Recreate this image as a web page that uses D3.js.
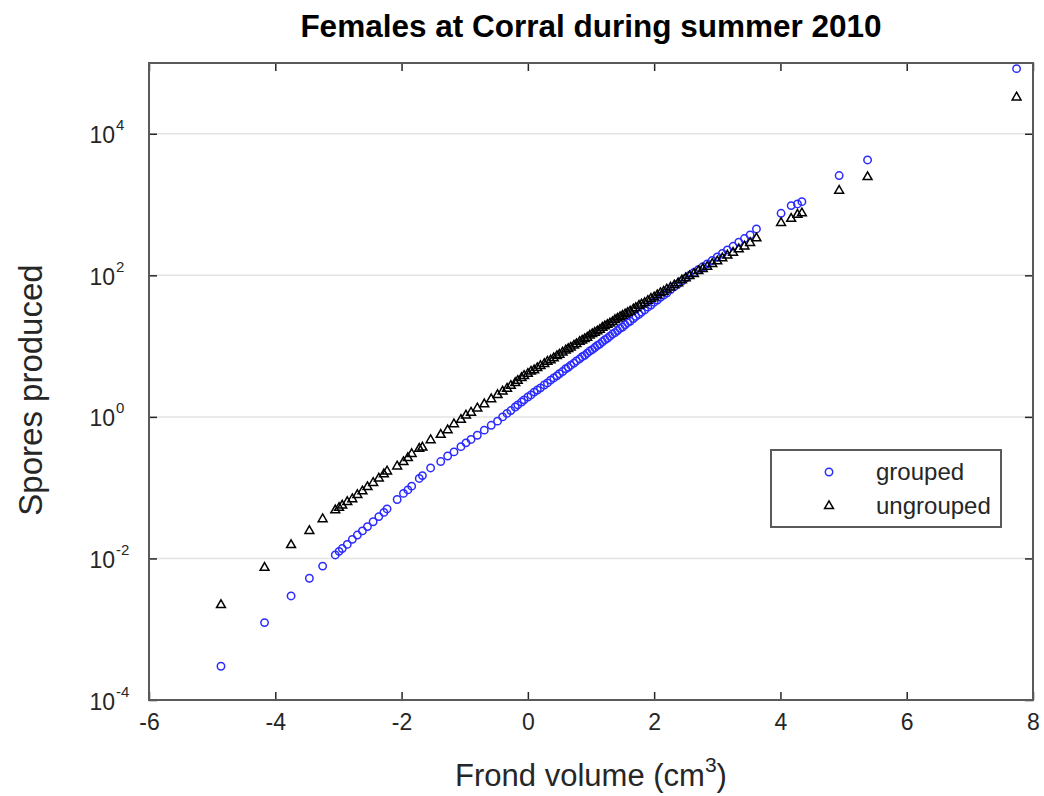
<!DOCTYPE html>
<html>
<head>
<meta charset="utf-8">
<script src="https://cdn.jsdelivr.net/npm/d3@7"></script>
<style>
  html, body { margin: 0; padding: 0; background: #fff; overflow: hidden; }
  svg { display: block; }
  text { font-family: "Liberation Sans", Arial, Helvetica, sans-serif; }
</style>
</head>
<body>
<div id="chart"></div>
<script>
// frond volume shared by both series
const volume = [
  -4.86, -4.17, -3.75, -3.46, -3.25, -3.05, -2.99, -2.94, -2.86, -2.78,
  -2.70, -2.62, -2.54, -2.45, -2.36, -2.28, -2.23, -2.07, -1.97, -1.90,
  -1.84, -1.72, -1.67, -1.54, -1.38, -1.27, -1.17, -1.06, -0.98, -0.90,
  -0.80, -0.69, -0.58, -0.48, -0.40, -0.33, -0.27, -0.20, -0.16, -0.10,
  -0.06, 0.00, 0.05, 0.10, 0.15, 0.20, 0.26, 0.31, 0.36, 0.41,
  0.46, 0.50, 0.55, 0.60, 0.64, 0.68, 0.73, 0.77, 0.82, 0.86,
  0.90, 0.94, 0.98, 1.02, 1.06, 1.10, 1.14, 1.18, 1.22, 1.26,
  1.30, 1.34, 1.38, 1.42, 1.46, 1.50, 1.54, 1.58, 1.62, 1.67,
  1.71, 1.76, 1.80, 1.85, 1.90, 1.95, 2.00, 2.05, 2.10, 2.15,
  2.20, 2.26, 2.32, 2.38, 2.44, 2.50, 2.56, 2.63, 2.70, 2.77,
  2.84, 2.92, 3.00, 3.08, 3.16, 3.25, 3.34, 3.43, 3.52, 3.62,
  4.01, 4.17, 4.27, 4.34, 4.93, 5.38, 7.74
];

const grouped = [
  3.0e-4, 1.24e-3, 2.95e-3, 5.25e-3, 7.8e-3, 1.12e-2, 1.26e-2, 1.38e-2, 1.58e-2, 1.86e-2,
  2.14e-2, 2.45e-2, 2.82e-2, 3.3e-2, 3.9e-2, 4.47e-2, 5.0e-2, 6.8e-2, 8.3e-2, 9.3e-2,
  0.105, 0.135, 0.148, 0.19, 0.234, 0.28, 0.32, 0.38, 0.43, 0.48,
  0.55, 0.65, 0.76, 0.87, 1.0, 1.12, 1.23, 1.38, 1.48, 1.62,
  1.74, 1.91, 2.04, 2.24, 2.4, 2.57, 2.82, 3.02, 3.31, 3.55,
  3.8, 4.07, 4.37, 4.79, 5.01, 5.37, 5.75, 6.17, 6.61, 7.08,
  7.41, 7.94, 8.51, 8.91, 9.55, 10.2, 10.7, 11.5, 12.3, 12.9,
  13.8, 14.8, 15.5, 16.6, 17.8, 18.6, 20.0, 21.4, 22.4, 24.5,
  26.3, 28.2, 30.2, 32.4, 35.5, 38.0, 41.7, 44.7, 49.0, 52.5,
  56.2, 63.1, 69.2, 75.9, 83.2, 91.2, 100, 110, 120, 132,
  145, 162, 182, 204, 229, 257, 295, 331, 372, 452,
  753, 966, 1020, 1100, 2570, 4270, 83200
];

const ungrouped = [
  2.2e-3, 7.4e-3, 1.55e-2, 2.45e-2, 3.6e-2, 4.8e-2, 5.2e-2, 5.6e-2, 6.3e-2, 6.9e-2,
  7.9e-2, 8.9e-2, 0.102, 0.117, 0.135, 0.155, 0.17, 0.2, 0.23, 0.263,
  0.30, 0.355, 0.37, 0.47, 0.56, 0.65, 0.79, 0.91, 1.05, 1.15,
  1.32, 1.51, 1.78, 2.04, 2.29, 2.51, 2.75, 3.02, 3.24, 3.55,
  3.8, 4.07, 4.37, 4.57, 4.9, 5.25, 5.62, 6.03, 6.31, 6.76,
  7.24, 7.59, 8.13, 8.71, 9.12, 9.55, 10.2, 10.7, 11.5, 12.0,
  12.6, 13.2, 14.1, 14.8, 15.5, 16.2, 17.0, 18.2, 19.1, 20.0,
  20.9, 21.9, 23.4, 24.5, 25.7, 26.9, 28.2, 29.5, 30.9, 33.1,
  34.7, 37.2, 38.9, 40.7, 43.7, 46.8, 49.0, 52.5, 56.2, 58.9,
  63.1, 67.6, 72.4, 77.6, 85.1, 91.2, 97.7, 105, 115, 123,
  132, 145, 158, 174, 191, 209, 234, 257, 288, 334,
  550, 631, 719, 753, 1570, 2450, 32700
];

const xTicks = [-6, -4, -2, 0, 2, 4, 6, 8];
const yTicks = [1e-4, 1e-2, 1, 1e2, 1e4];
const seriesNames = ["grouped", "ungrouped"];

const width = 1044, height = 796;
const margin = { top: 63, right: 11, bottom: 96, left: 149 };
const innerWidth = width - margin.left - margin.right;
const innerHeight = height - margin.top - margin.bottom;

const svg = d3.select("#chart").append("svg")
  .attr("width", width)
  .attr("height", height);

const chartArea = svg.append("g")
  .attr("transform", `translate(${margin.left}, ${margin.top})`);

const x = d3.scaleLinear().domain([-6, 8]).range([0, innerWidth]);
const y = d3.scaleLog().domain([1e-4, 1e5]).range([innerHeight, 0]);

const axisColor = "#262626";
const blue = "#2b2bff";

// grid
chartArea.append("g")
  .selectAll("line")
  .data(yTicks.slice(1))
  .join("line")
  .attr("x1", 0)
  .attr("x2", innerWidth)
  .attr("y1", (d) => y(d))
  .attr("y2", (d) => y(d))
  .attr("stroke", "#e3e3e3")
  .attr("stroke-width", 1.5);

// axes
const gx = chartArea.append("g")
  .attr("transform", `translate(0, ${innerHeight})`)
  .call(d3.axisBottom(x).tickValues(xTicks).tickSize(-8).tickPadding(14)
    .tickFormat((d) => String(d)));

const gTop = chartArea.append("g")
  .call(d3.axisTop(x).tickValues(xTicks).tickSize(-8).tickFormat(""));

const gy = chartArea.append("g")
  .call(d3.axisLeft(y).tickValues(yTicks).tickSize(-8).tickFormat(""));

const gRight = chartArea.append("g")
  .attr("transform", `translate(${innerWidth}, 0)`)
  .call(d3.axisRight(y).tickValues(yTicks).tickSize(-8).tickFormat(""));

chartArea.selectAll(".domain").remove();
chartArea.selectAll(".tick line").attr("stroke", axisColor).attr("stroke-width", 1.5);
gTop.selectAll(".tick text").remove();
gRight.selectAll(".tick text").remove();
gy.selectAll(".tick text").remove();

gx.selectAll(".tick text")
  .attr("font-size", 23)
  .attr("fill", axisColor);

// y tick labels: base 10 plus a raised exponent
const yLabels = gy.selectAll(".tick");
yLabels.append("text")
  .attr("x", -34)
  .attr("y", 9)
  .attr("text-anchor", "end")
  .attr("font-size", 23)
  .attr("fill", axisColor)
  .text("10");
yLabels.append("text")
  .attr("x", -33)
  .attr("y", -4)
  .attr("text-anchor", "start")
  .attr("font-size", 15)
  .attr("fill", axisColor)
  .text((d) => String(Math.round(Math.log10(d))));

// box
chartArea.append("rect")
  .attr("width", innerWidth)
  .attr("height", innerHeight)
  .attr("fill", "none")
  .attr("stroke", "#5a5a5a")
  .attr("stroke-width", 2);

// points
const triangle = d3.symbol(d3.symbolTriangle).size(34);

chartArea.append("g")
  .selectAll("circle")
  .data(volume)
  .join("circle")
  .attr("cx", (d) => x(d))
  .attr("cy", (d, i) => y(grouped[i]))
  .attr("r", 3.7)
  .attr("fill", "none")
  .attr("stroke", blue)
  .attr("stroke-width", 1.5);

chartArea.append("g")
  .selectAll("path")
  .data(volume)
  .join("path")
  .attr("d", triangle)
  .attr("transform", (d, i) => `translate(${x(d)}, ${y(ungrouped[i])})`)
  .attr("fill", "none")
  .attr("stroke", "#000")
  .attr("stroke-width", 1.5);

// title and labels
svg.append("text")
  .attr("x", margin.left + innerWidth / 2)
  .attr("y", 37)
  .attr("text-anchor", "middle")
  .attr("font-size", 31.5)
  .attr("font-weight", "bold")
  .attr("fill", "#000")
  .text("Females at Corral during summer 2010");

// x label: main text, superscript 3, closing bracket
const xMain = svg.append("text")
  .attr("y", 786)
  .attr("font-size", 31)
  .attr("fill", axisColor)
  .text("Frond volume (cm");
const xSup = svg.append("text")
  .attr("y", 772)
  .attr("font-size", 21)
  .attr("fill", axisColor)
  .text("3");
const xClose = svg.append("text")
  .attr("y", 786)
  .attr("font-size", 31)
  .attr("fill", axisColor)
  .text(")");
const wMain = xMain.node().getComputedTextLength();
const wSup = xSup.node().getComputedTextLength();
const wClose = xClose.node().getComputedTextLength();
const xStart = margin.left + innerWidth / 2 - (wMain + wSup + wClose) / 2;
xMain.attr("x", xStart);
xSup.attr("x", xStart + wMain);
xClose.attr("x", xStart + wMain + wSup);

svg.append("text")
  .attr("transform", "translate(42, 390) rotate(-90)")
  .attr("text-anchor", "middle")
  .attr("font-size", 33)
  .attr("fill", axisColor)
  .text("Spores produced");

// legend
const legend = svg.append("g").attr("transform", "translate(771, 450)");
legend.append("rect")
  .attr("width", 230)
  .attr("height", 77)
  .attr("fill", "#fff")
  .attr("stroke", "#5a5a5a")
  .attr("stroke-width", 2);

legend.append("circle")
  .attr("cx", 58)
  .attr("cy", 22)
  .attr("r", 3.7)
  .attr("fill", "none")
  .attr("stroke", blue)
  .attr("stroke-width", 1.5);

legend.append("path")
  .attr("d", triangle)
  .attr("transform", "translate(58, 56)")
  .attr("fill", "none")
  .attr("stroke", "#000")
  .attr("stroke-width", 1.5);

legend.selectAll("text.label")
  .data(seriesNames)
  .join("text")
  .attr("class", "label")
  .attr("x", 105)
  .attr("y", (d, i) => 30 + i * 34)
  .attr("font-size", 24)
  .attr("fill", axisColor)
  .text((d) => d);
</script>
</body>
</html>
